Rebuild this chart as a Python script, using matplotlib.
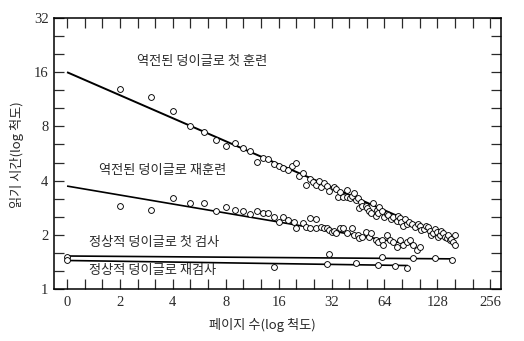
import matplotlib
matplotlib.use("Agg")
import matplotlib.pyplot as plt
from matplotlib.ticker import FixedLocator, NullFormatter

# Reading time per page vs. pages read (log-log)
first_train_pages = [2, 3, 4, 5, 6, 7, 8, 9, 10, 11, 12, 13, 14, 15, 16, 17, 18, 19, 20,
                     21, 22, 23, 24, 25, 26, 27, 28, 29, 30, 31, 33, 34, 35, 36, 37, 39,
                     39, 41, 42, 43, 44, 45, 46, 47, 48, 50, 51, 52, 54, 55, 57, 58, 59,
                     60, 62, 64, 66, 67, 70, 72, 75, 76, 78, 80, 82, 84, 86, 88, 92, 96,
                     100, 102, 104, 107, 111, 113, 116, 118, 121, 124, 127, 130, 132, 135,
                     138, 141, 145, 148, 151, 154, 158, 161, 161]
first_train_times = [12.9, 11.6, 9.7, 8.0, 7.4, 6.7, 6.2, 6.45, 6.1, 5.85, 5.1, 5.35, 5.3,
                     4.95, 4.8, 4.7, 4.6, 4.8, 5.0, 4.25, 4.4, 3.8, 4.1, 3.95, 3.8, 4.0,
                     3.7, 3.9, 3.75, 3.5, 3.7, 3.6, 3.26, 3.45, 3.25, 3.55, 3.26, 3.19,
                     3.3, 3.4, 3.12, 3.2, 2.8, 3.05, 2.9, 2.9, 2.81, 2.7, 2.63, 3.0, 2.55,
                     2.75, 2.63, 2.85, 2.7, 2.5, 2.6, 2.58, 2.45, 2.52, 2.4, 2.55, 2.47,
                     2.35, 2.25, 2.45, 2.3, 2.37, 2.3, 2.2, 2.3, 2.25, 2.12, 2.15, 2.25,
                     2.2, 2.1, 2.0, 2.05, 2.15, 2.08, 1.95, 2.0, 2.1, 2.05, 1.95, 1.91,
                     2.0, 1.87, 1.9, 1.83, 2.0, 1.76]

retrain_pages = [2, 3, 4, 5, 6, 7, 8, 9, 10, 11, 12, 13, 14, 15, 16, 17, 18, 19.5, 20, 22,
                 23, 24, 24, 26, 26, 28, 29, 30, 31, 32, 33, 34, 36, 37, 39, 42, 43, 45,
                 46, 48, 50, 52, 54, 57, 59, 62, 63, 66, 69, 72, 75, 78, 82, 86, 90, 93,
                 98, 102]
retrain_times = [2.9, 2.75, 3.2, 3.0, 3.0, 2.7, 2.85, 2.75, 2.7, 2.6, 2.7, 2.65, 2.63,
                 2.52, 2.37, 2.52, 2.42, 2.37, 2.17, 2.32, 2.22, 2.47, 2.19, 2.45, 2.17,
                 2.22, 2.17, 2.17, 2.13, 2.08, 2.11, 2.04, 2.17, 2.17, 2.04, 2.17, 2.0,
                 2.0, 1.91, 1.95, 2.08, 1.95, 2.04, 1.87, 1.83, 1.87, 1.76, 2.0, 1.87,
                 1.83, 1.72, 1.87, 1.76, 1.83, 1.87, 1.76, 1.65, 1.72]

normal_test_pages = [1, 31, 62, 93, 124, 155]
normal_test_times = [1.51, 1.56, 1.5, 1.48, 1.48, 1.44]

normal_retest_pages = [1, 15, 30, 44, 59, 74, 86]
normal_retest_times = [1.44, 1.33, 1.37, 1.4, 1.36, 1.35, 1.3]

# Fitted lines (end points)
fit_first_pages, fit_first_times = [1, 161], [16, 1.85]
fit_retrain_pages, fit_retrain_times = [1, 98], [3.73, 1.745]
fit_test_pages, fit_test_times = [1, 161], [1.525, 1.47]
fit_retest_pages, fit_retest_times = [1, 87], [1.44, 1.35]

x_ticks = [1, 2, 4, 8, 16, 32, 64, 128, 256]
x_tick_labels = ["0", "2", "4", "8", "16", "32", "64", "128", "256"]
y_ticks = [1, 2, 4, 8, 16, 32]
y_tick_labels = ["1", "2", "4", "8", "16", "32"]

series_labels = ["역전된 덩이글로 첫 훈련", "역전된 덩이글로 재훈련",
                 "정상적 덩이글로 첫 검사", "정상적 덩이글로 재검사"]

kfont = ["Noto Sans CJK KR", "DejaVu Sans"]
nfont = "Liberation Serif"
ink = "#2a2a2a"

fig = plt.figure(figsize=(5.24, 3.41), dpi=100)
ax = fig.add_axes([54 / 524, 1 - 289 / 341, 446.5 / 524, 271 / 341])

ax.set_xscale("log", base=2)
ax.set_yscale("log", base=2)
ax.set_xlim(0.843, 293)
ax.set_ylim(1, 32)

line_kw = dict(color="black", lw=1.2, solid_capstyle="butt", zorder=2)
ax.plot(fit_first_pages, fit_first_times, **dict(line_kw, lw=1.4))
ax.plot(fit_retrain_pages, fit_retrain_times, **line_kw)
ax.plot(fit_test_pages, fit_test_times, **line_kw)
ax.plot(fit_retest_pages, fit_retest_times, **line_kw)

mk = dict(ls="none", marker="o", ms=4.2, mfc="white", mec="black", mew=0.65, zorder=3)
ax.plot(first_train_pages, first_train_times, **mk)
ax.plot(retrain_pages, retrain_times, **mk)
ax.plot(normal_test_pages, normal_test_times, **mk)
ax.plot(normal_retest_pages, normal_retest_times, **mk)

# Ticks every third of an octave on all four sides
ax.xaxis.set_major_locator(FixedLocator(x_ticks))
ax.set_xticklabels(x_tick_labels, fontfamily=nfont, fontsize=10.5)
ax.xaxis.set_minor_locator(FixedLocator([2 ** (k / 3) for k in range(0, 25)]))
ax.xaxis.set_minor_formatter(NullFormatter())
ax.yaxis.set_major_locator(FixedLocator(y_ticks))
ax.set_yticklabels(y_tick_labels, fontfamily=nfont, fontsize=10.5)
ax.yaxis.set_minor_locator(FixedLocator([2 ** (k / 3) for k in range(0, 16)]))
ax.yaxis.set_minor_formatter(NullFormatter())
ax.tick_params(which="both", direction="in", length=7.5, width=0.9,
               top=True, right=True, colors=ink, labelcolor=ink)
ax.tick_params(axis="x", which="major", pad=5)
ax.tick_params(axis="y", which="major", pad=4)

for sp in ax.spines.values():
    sp.set_linewidth(1.1)

text_kw = dict(family=kfont, fontsize=9.5, fontweight="light", color=ink,
               ha="center", va="center", transform=ax.transAxes)
ax.text(0.331, 0.838, series_labels[0], **text_kw)
ax.text(0.244, 0.439, series_labels[1], **text_kw)
ax.text(0.224, 0.170, series_labels[2], **text_kw)
ax.text(0.222, 0.070, series_labels[3], **text_kw)

fig.text(17 / 524, 1 - 155 / 341, "읽기 시간(log 척도)", family=kfont, fontsize=9.5,
         fontweight="light", color=ink, rotation=90, ha="center", va="center")
fig.text(262 / 524, 1 - 325 / 341, "페이지 수(log 척도)", family=kfont, fontsize=9.5,
         fontweight="light", color=ink, ha="center", va="center")

fig.savefig("out.png", dpi=100)
